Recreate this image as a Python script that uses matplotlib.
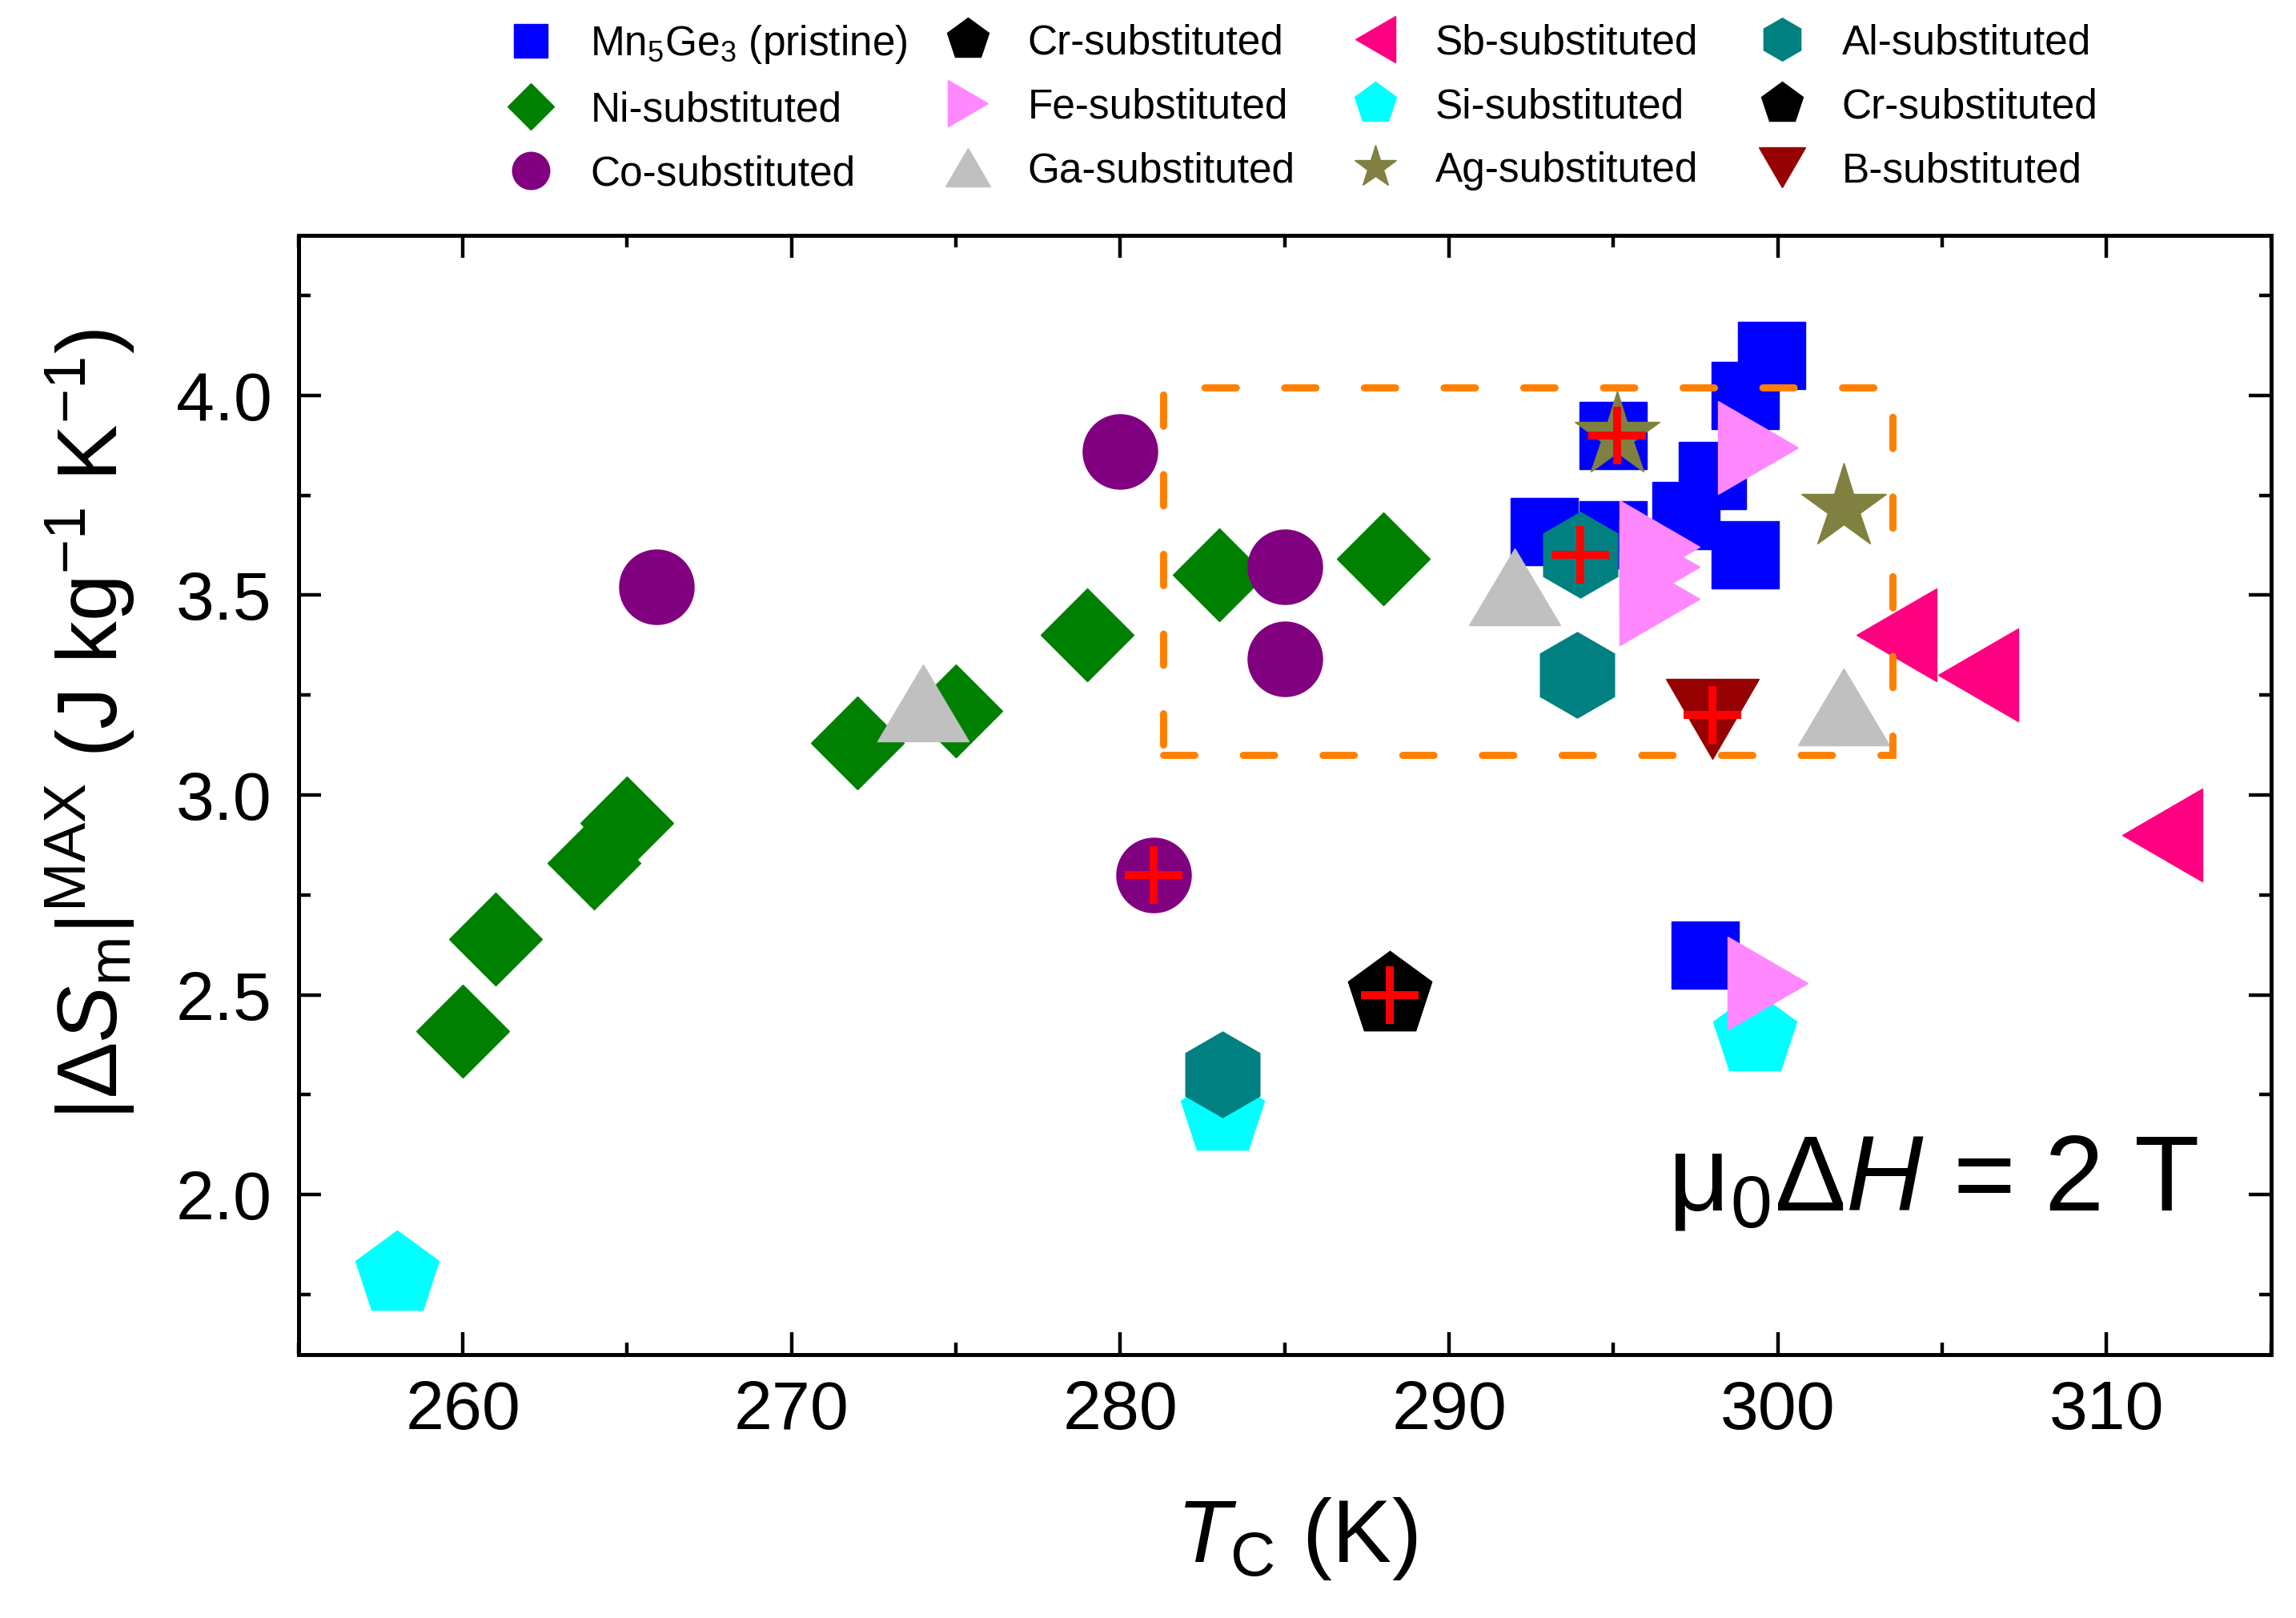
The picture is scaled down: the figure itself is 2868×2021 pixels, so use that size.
import matplotlib
matplotlib.use("Agg")
import matplotlib.pyplot as plt
from matplotlib.markers import MarkerStyle
from matplotlib.transforms import Affine2D
from matplotlib.patches import Rectangle
from matplotlib.ticker import MultipleLocator, FormatStrFormatter

plt.rcParams['font.family'] = ['Liberation Sans', 'DejaVu Sans']
plt.rcParams['mathtext.fontset'] = 'custom'
plt.rcParams['mathtext.rm'] = 'Liberation Sans'
plt.rcParams['mathtext.it'] = 'Liberation Sans:italic'
plt.rcParams['mathtext.bf'] = 'Liberation Sans:bold'

# data: Tc (K) and |dSm|max (J/kg/K)
mn_T = [292.9, 295.0, 295.0, 297.2, 298.0, 299.0, 299.0, 299.8, 297.8]
mn_S = [3.66, 3.65, 3.90, 3.70, 3.80, 3.60, 4.00, 4.10, 2.60]
ni_T = [260.0, 261.0, 264.0, 265.0, 272.0, 275.0, 279.0, 283.0, 288.0]
ni_S = [2.41, 2.64, 2.83, 2.93, 3.13, 3.21, 3.40, 3.55, 3.59]
co_T = [265.9, 280.0, 281.0, 285.0, 285.0]
co_S = [3.52, 3.86, 2.80, 3.57, 3.34]
cr_T = [288.2]
cr_S = [2.50]
fe_T = [299.4, 296.4, 296.4, 296.4, 299.7]
fe_S = [3.87, 3.62, 3.57, 3.49, 2.53]
ga_T = [274.0, 292.0, 302.0]
ga_S = [3.23, 3.52, 3.22]
sb_T = [303.6, 306.1, 311.7]
sb_S = [3.40, 3.30, 2.90]
si_T = [258.0, 283.1, 299.3]
si_S = [1.80, 2.20, 2.40]
ag_T = [295.1, 302.0]
ag_S = [3.90, 3.72]
al_T = [294.0, 293.9, 283.1]
al_S = [3.60, 3.30, 2.30]
cr2_T = [288.2]
cr2_S = [2.50]
b_T = [298.0]
b_S = [3.19]

# samples marked with a red cross
cross_T = [281.0, 288.2, 295.1, 294.0, 298.0]
cross_S = [2.80, 2.50, 3.90, 3.60, 3.20]

# dashed region (Tc range, dSm range)
box_T = [281.3, 303.5]
box_S = [3.10, 4.02]


def mk(m, sx=1.0, sy=1.0):
    return MarkerStyle(m, transform=Affine2D().scale(sx, sy))


fig = plt.figure(figsize=(14.34, 10.105), dpi=200)
ax = fig.add_axes([0.130, 0.1628, 0.8591, 0.6917])

# (label, T, S, marker, size, colour, zorder) in legend order (column-wise)
series = [
    ("Mn$_5$Ge$_3$ (pristine)", mn_T, mn_S, mk('s'), 30.5, '#0000FF', 2.0),
    ("Ni-substituted", ni_T, ni_S, mk('D'), 29.5, '#008000', 2.1),
    ("Co-substituted", co_T, co_S, mk('o'), 33.5, '#800080', 2.2),
    ("Cr-substituted", cr_T, cr_S, mk('p'), 39.5, '#000000', 2.9),
    ("Fe-substituted", fe_T, fe_S, mk('>', 0.85, 1.0), 42, '#FF88FF', 2.5),
    ("Ga-substituted", ga_T, ga_S, mk('^', 1.0, 0.85), 41, '#C0C0C0', 2.4),
    ("Sb-substituted", sb_T, sb_S, mk('<', 0.85, 1.0), 42, '#FF0080', 2.5),
    ("Si-substituted", si_T, si_S, mk('p'), 39.5, '#00FFFF', 2.3),
    ("Ag-substituted", ag_T, ag_S, mk('*'), 40, '#808040', 2.8),
    ("Al-substituted", al_T, al_S, mk('h'), 38.5, '#008080', 2.6),
    ("Cr-substituted", cr2_T, cr2_S, mk('p'), 39.5, '#000000', 2.9),
    ("B-substituted", b_T, b_S, mk('v', 1.0, 0.86), 42, '#960000', 2.8),
]

for lab, xs, ys, m, ms, c, z in series:
    ax.plot(xs, ys, ls='none', marker=m, ms=ms, color=c, mec=c, mew=0.5,
            label=lab, zorder=z)

ax.plot(cross_T, cross_S, ls='none', marker='+', ms=26, mew=3.6,
        color='#FF0000', zorder=4)

box = Rectangle((box_T[0], box_S[0]), box_T[1] - box_T[0], box_S[1] - box_S[0],
                fill=False, edgecolor='#FF8000', lw=3.2,
                linestyle=(0, (4.4, 6.8)), zorder=3.5)
box.set_capstyle('round')
ax.add_patch(box)

ax.set_xlim(255, 315)
ax.set_ylim(1.6, 4.4)
ax.xaxis.set_major_locator(MultipleLocator(10))
ax.xaxis.set_minor_locator(MultipleLocator(5))
ax.yaxis.set_major_locator(MultipleLocator(0.5))
ax.yaxis.set_minor_locator(MultipleLocator(0.25))
ax.yaxis.set_major_formatter(FormatStrFormatter('%.1f'))

ax.tick_params(which='both', direction='in', top=True, right=True, width=1.6)
ax.tick_params(which='major', length=10, labelsize=31)
ax.tick_params(axis='x', which='major', pad=11)
ax.tick_params(axis='y', which='major', pad=12)
ax.tick_params(which='minor', length=5.5)
for sp in ax.spines.values():
    sp.set_linewidth(1.8)

ax.set_xlabel(r'$T_\mathrm{C}$ (K)', fontsize=40)
ax.xaxis.set_label_coords(0.506, -0.126)
ax.set_ylabel(r'$|\Delta S_\mathrm{m}|^\mathrm{MAX}$ (J kg$^{-1}$ K$^{-1}$)', fontsize=38)
ax.yaxis.set_label_coords(-0.082, 0.563)

ax.text(0.963, 0.129, r'$\mathrm{\mu}_0\Delta H$ = 2 T', transform=ax.transAxes,
        ha='right', va='baseline', fontsize=48)

# legend: four columns placed where the original has them
h, l = ax.get_legend_handles_labels()
col_x = [0.2204, 0.4108, 0.5883, 0.7654]
for i, x0 in enumerate(col_x):
    fig.legend(h[3 * i:3 * i + 3], l[3 * i:3 * i + 3], loc='upper left',
               bbox_to_anchor=(x0, 0.9856), frameon=False, fontsize=18.5,
               markerscale=0.5, handlelength=1.2, handletextpad=0.85,
               labelspacing=0.605, borderpad=0, borderaxespad=0)

fig.savefig('out.png', dpi=200)
